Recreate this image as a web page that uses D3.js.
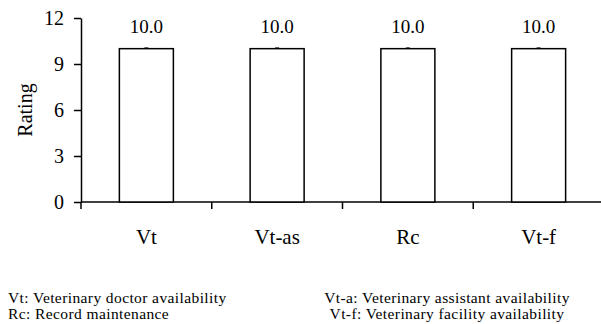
<!DOCTYPE html>
<html>
<head>
<meta charset="utf-8">
<script src="https://cdn.jsdelivr.net/npm/d3@7"></script>
<style>
  html, body { margin: 0; padding: 0; background: #fff; }
  svg { display: block; }
  text { font-family: "Liberation Serif", "Times New Roman", serif; fill: #000; }
</style>
</head>
<body>
<div id="chart"></div>
<script>
// Ratings per facility item
const categories = ["Vt", "Vt-as", "Rc", "Vt-f"];
const ratings = [10.0, 10.0, 10.0, 10.0];
const errors = [0.0, 0.0, 0.0, 0.0];
const yTicks = [0, 3, 6, 9, 12];
const notesLeft = ["Vt: Veterinary doctor availability", "Rc: Record maintenance"];
const notesRight = ["Vt-a: Veterinary assistant availability", "Vt-f: Veterinary facility availability"];

const W = 601, H = 324;
const svg = d3.select("#chart").append("svg").attr("width", W).attr("height", H);

const plotLeft = 81, plotRight = 604, plotTop = 18, plotBottom = 202;

const x = d3.scaleBand().domain(categories).range([plotLeft, plotRight])
  .paddingInner(0.587).paddingOuter(0.2935);
const y = d3.scaleLinear().domain([0, 12]).range([plotBottom, plotTop]);

// Y axis
const yAxis = svg.append("g").attr("transform", `translate(${plotLeft},0)`)
  .call(d3.axisLeft(y).tickValues(yTicks).tickSize(7).tickPadding(10).tickSizeOuter(0));
yAxis.select(".domain").attr("stroke", "#000").attr("stroke-width", 1.5);
yAxis.selectAll(".tick line").attr("stroke", "#000").attr("stroke-width", 1.5);
yAxis.selectAll(".tick text").style("font-size", "20px")
  .style("font-family", "'Liberation Serif', serif");

// Y axis continues a little below the baseline
svg.append("line").attr("x1", plotLeft).attr("x2", plotLeft)
  .attr("y1", plotBottom).attr("y2", plotBottom + 7)
  .attr("stroke", "#000").attr("stroke-width", 1.5);

// X axis line with ticks at category boundaries
svg.append("line").attr("x1", plotLeft).attr("x2", W)
  .attr("y1", y(0)).attr("y2", y(0))
  .attr("stroke", "#000").attr("stroke-width", 1.5);
const step = x.step();
categories.slice(1).forEach(c => {
  const bx = x(c) - step * x.paddingInner() / 2;
  svg.append("line").attr("x1", bx).attr("x2", bx)
    .attr("y1", y(0)).attr("y2", y(0) + 7)
    .attr("stroke", "#000").attr("stroke-width", 1.5);
});

// Category labels
svg.selectAll("text.cat").data(categories).enter().append("text")
  .attr("class", "cat")
  .attr("x", d => x(d) + x.bandwidth() / 2)
  .attr("y", 244)
  .attr("text-anchor", "middle")
  .style("font-size", "21px")
  .text(d => d);

// Bars
const data = categories.map((c, i) => ({ c, v: ratings[i], e: errors[i] }));
svg.selectAll("rect.bar").data(data).enter().append("rect")
  .attr("class", "bar")
  .attr("x", d => x(d.c))
  .attr("y", d => y(d.v))
  .attr("width", x.bandwidth())
  .attr("height", d => y(0) - y(d.v))
  .attr("fill", "#fff")
  .attr("stroke", "#000")
  .attr("stroke-width", 1.5);

// Error bars
data.forEach(d => {
  const cx = x(d.c) + x.bandwidth() / 2;
  svg.append("line").attr("x1", cx).attr("x2", cx)
    .attr("y1", y(d.v + d.e)).attr("y2", y(d.v - d.e))
    .attr("stroke", "#000").attr("stroke-width", 1);
  svg.append("line").attr("x1", cx - 2).attr("x2", cx + 2)
    .attr("y1", y(d.v + d.e) - 0.5).attr("y2", y(d.v + d.e) - 0.5)
    .attr("stroke", "#000").attr("stroke-width", 1.5);
});

// Value labels
svg.selectAll("text.val").data(data).enter().append("text")
  .attr("class", "val")
  .attr("x", d => x(d.c) + x.bandwidth() / 2)
  .attr("y", d => y(d.v) - 16)
  .attr("text-anchor", "middle")
  .style("font-size", "19px")
  .text(d => d.v.toFixed(1));

// Y axis title
svg.append("text")
  .attr("transform", `translate(32,110) rotate(-90)`)
  .attr("text-anchor", "middle")
  .style("font-size", "20px")
  .text("Rating");

// Abbreviation notes
notesLeft.forEach((t, i) => {
  svg.append("text").attr("x", 8).attr("y", 303 + i * 16)
    .style("font-size", "15.5px").style("letter-spacing", "0.4px").text(t);
});
notesRight.forEach((t, i) => {
  svg.append("text").attr("x", 447).attr("y", 303 + i * 16)
    .attr("text-anchor", "middle")
    .style("font-size", "15.5px").style("letter-spacing", "0.4px").text(t);
});
</script>
</body>
</html>
